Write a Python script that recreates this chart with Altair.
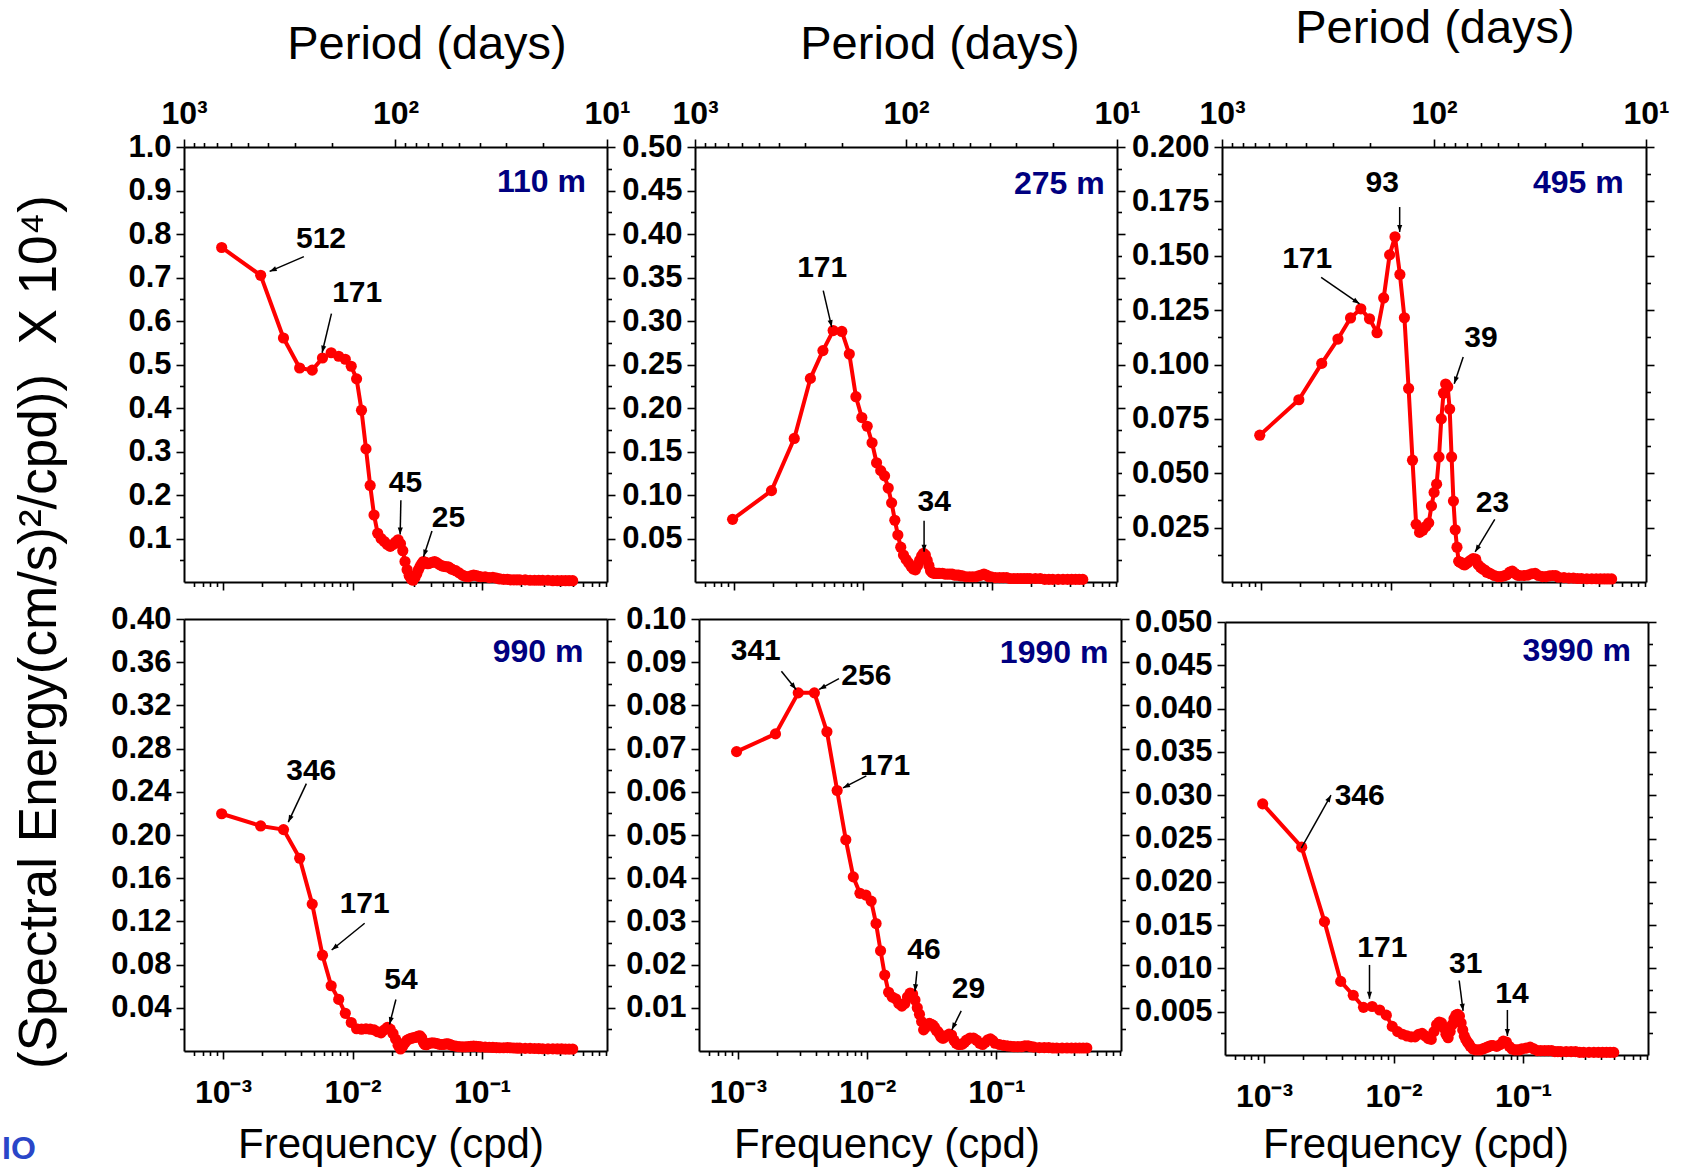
import math
import altair as alt
import pandas as pd

FONT = "Liberation Sans"
RED = "#ff0000"
NAVY = "#000080"
CANVAS_W, CANVAS_H = 1681, 1168

# ---------------- data ----------------
RECORD_DAYS = 1024
HARMONIC = [1, 2, 3, 4, 5, 6, 7, 8, 9, 10, 11, 12, 13, 14, 15, 16, 17, 18, 19, 20,
            21, 22, 23, 24, 25, 26, 27, 28, 29, 30, 31, 32, 33, 34, 35, 36, 37, 38, 39, 40,
            42, 44, 46, 48, 50, 52, 54, 56, 58, 60,
            64, 68, 72, 76, 80, 84, 88, 92, 96, 100,
            108, 116, 124, 132, 140, 150, 160, 170, 180, 190, 200,
            220, 240, 260, 280, 300, 330, 360, 390, 420, 450, 480, 512]

DEPTHS = ["110 m", "275 m", "495 m", "990 m", "1990 m", "3990 m"]

E110 = [0.769, 0.705, 0.561, 0.492, 0.487, 0.515, 0.527, 0.519, 0.512, 0.496,
        0.467, 0.395, 0.306, 0.222, 0.154, 0.112, 0.100, 0.093, 0.086, 0.082,
        0.086, 0.092, 0.097, 0.088, 0.072, 0.047, 0.028, 0.015, 0.007, 0.004,
        0.010, 0.018, 0.028, 0.036, 0.042, 0.047, 0.046, 0.044, 0.042, 0.043,
        0.045, 0.047, 0.044, 0.040, 0.037, 0.036, 0.035, 0.035, 0.032, 0.029,
        0.026, 0.021, 0.016, 0.013, 0.012, 0.014, 0.016, 0.015, 0.013, 0.012,
        0.012, 0.010, 0.011, 0.009, 0.007, 0.006, 0.006, 0.005, 0.005, 0.005, 0.005,
        0.005, 0.004, 0.004, 0.004, 0.004, 0.004, 0.003, 0.003, 0.003, 0.003, 0.003, 0.003]

E275 = [0.072, 0.105, 0.165, 0.234, 0.266, 0.289, 0.288, 0.262, 0.213, 0.189,
        0.179, 0.160, 0.137, 0.128, 0.122, 0.108, 0.091, 0.071, 0.054, 0.040,
        0.031, 0.026, 0.022, 0.018, 0.015, 0.014, 0.019, 0.025, 0.030, 0.033,
        0.031, 0.025, 0.019, 0.013, 0.011, 0.010, 0.010, 0.010, 0.010, 0.010,
        0.010, 0.009, 0.009, 0.009, 0.009, 0.008, 0.008, 0.008, 0.007, 0.007,
        0.006, 0.006, 0.006, 0.006, 0.007, 0.008, 0.009, 0.008, 0.006, 0.006,
        0.005, 0.005, 0.005, 0.005, 0.004, 0.004, 0.004, 0.004, 0.004, 0.004, 0.004,
        0.004, 0.004, 0.003, 0.003, 0.003, 0.003, 0.003, 0.003, 0.003, 0.003, 0.003, 0.003]

E495 = [0.0675, 0.0838, 0.1005, 0.1117, 0.1214, 0.1256, 0.1210, 0.1146, 0.1306, 0.1504,
        0.1587, 0.1414, 0.1215, 0.0890, 0.0560, 0.0265, 0.0228, 0.0238, 0.0255, 0.0272,
        0.0350, 0.0412, 0.0450, 0.0575, 0.0750, 0.0868, 0.0910, 0.0898, 0.0795, 0.0575,
        0.0372, 0.0240, 0.0160, 0.0095, 0.0090, 0.0088, 0.0080, 0.0079, 0.0085, 0.0090,
        0.0100, 0.0108, 0.0105, 0.0080, 0.0068, 0.0060, 0.0055, 0.0045, 0.0042, 0.0038,
        0.0030, 0.0025, 0.0025, 0.0028, 0.0033, 0.0045, 0.0050, 0.0040, 0.0032, 0.0030,
        0.0030, 0.0032, 0.0038, 0.0040, 0.0030, 0.0025, 0.0025, 0.0028, 0.0030, 0.0030, 0.0022,
        0.0020, 0.0018, 0.0018, 0.0016, 0.0016, 0.0015, 0.0015, 0.0015, 0.0014, 0.0014, 0.0014, 0.0014]

E990 = [0.2197, 0.2084, 0.2050, 0.1785, 0.1360, 0.0887, 0.0604, 0.0478, 0.0349, 0.0264,
        0.0206, 0.0202, 0.0206, 0.0202, 0.0196, 0.0178, 0.0168, 0.0196, 0.0219, 0.0202,
        0.0162, 0.0110, 0.0053, 0.0019, 0.0043, 0.0077, 0.0101, 0.0110, 0.0118, 0.0122,
        0.0125, 0.0130, 0.0138, 0.0140, 0.0120, 0.0080, 0.0060, 0.0058, 0.0066, 0.0072,
        0.0076, 0.0074, 0.0068, 0.0062, 0.0060, 0.0062, 0.0066, 0.0066, 0.0060, 0.0052,
        0.0045, 0.0040, 0.0038, 0.0038, 0.0040, 0.0042, 0.0045, 0.0044, 0.0040, 0.0038,
        0.0036, 0.0035, 0.0033, 0.0032, 0.0030, 0.0030, 0.0032, 0.0030, 0.0028, 0.0027, 0.0026,
        0.0025, 0.0024, 0.0023, 0.0022, 0.0021, 0.0020, 0.0020, 0.0019, 0.0019, 0.0018, 0.0018, 0.0018]

E1990 = [0.0693, 0.0734, 0.0829, 0.0829, 0.0739, 0.0603, 0.0489, 0.0403, 0.0365, 0.0361,
         0.0347, 0.0295, 0.0232, 0.0176, 0.0136, 0.0125, 0.0121, 0.0110, 0.0104, 0.0110,
         0.0125, 0.0134, 0.0132, 0.0118, 0.0100, 0.0085, 0.0068, 0.0049, 0.0055, 0.0062,
         0.0064, 0.0062, 0.0060, 0.0055, 0.0048, 0.0045, 0.0040, 0.0033, 0.0030, 0.0030,
         0.0035, 0.0039, 0.0037, 0.0025, 0.0018, 0.0015, 0.0015, 0.0016, 0.0020, 0.0025,
         0.0030, 0.0030, 0.0025, 0.0018, 0.0015, 0.0020, 0.0026, 0.0028, 0.0024, 0.0018,
         0.0015, 0.0013, 0.0012, 0.0011, 0.0010, 0.0010, 0.0010, 0.0012, 0.0012, 0.0010, 0.0009,
         0.0008, 0.0008, 0.0008, 0.0007, 0.0007, 0.0007, 0.0007, 0.0007, 0.0007, 0.0007, 0.0007, 0.0007]

E3990 = [0.0290, 0.0240, 0.0154, 0.0085, 0.0069, 0.0055, 0.0056, 0.0052, 0.0046, 0.0033,
         0.0027, 0.0024, 0.0022, 0.0021, 0.0021, 0.0024, 0.0025, 0.0022, 0.0019, 0.0018,
         0.0027, 0.0035, 0.0038, 0.0037, 0.0031, 0.0024, 0.0020, 0.0027, 0.0035, 0.0042,
         0.0046, 0.0047, 0.0045, 0.0037, 0.0029, 0.0022, 0.0018, 0.0015, 0.0013, 0.0010,
         0.0007, 0.0006, 0.0006, 0.0006, 0.0007, 0.0008, 0.0009, 0.0010, 0.0011, 0.0011,
         0.0010, 0.0012, 0.0016, 0.0015, 0.0010, 0.0007, 0.0006, 0.0006, 0.0006, 0.0007,
         0.0008, 0.0009, 0.0007, 0.0005, 0.0005, 0.0005, 0.0005, 0.0005, 0.0004, 0.0004, 0.0004,
         0.0004, 0.0004, 0.0004, 0.0003, 0.0003, 0.0003, 0.0003, 0.0003, 0.0003, 0.0003, 0.0003, 0.0003]

ENERGY = [E110, E275, E495, E990, E1990, E3990]

# annotations: label, text (freq, value), arrow tail (freq, value), arrow tip (freq, value)
ANNOTATIONS = [
    [("512", 0.00571, 0.788, 0.00421, 0.748, 0.00229, 0.714),
     ("171", 0.01086, 0.665, 0.00687, 0.617, 0.00582, 0.527),
     ("45", 0.0256, 0.227, 0.0236, 0.188, 0.0233, 0.109),
     ("25", 0.0550, 0.148, 0.0410, 0.117, 0.0353, 0.058)],
    [("171", 0.00482, 0.361, 0.00491, 0.335, 0.00571, 0.293),
     ("34", 0.0355, 0.0915, 0.0296, 0.0705, 0.0296, 0.0347)],
    [("93", 0.00857, 0.1834, 0.01167, 0.1724, 0.01167, 0.1609),
     ("171", 0.002265, 0.1486, 0.0029, 0.1401, 0.00573, 0.1279),
     ("39", 0.0494, 0.1120, 0.0360, 0.1035, 0.0307, 0.0912),
     ("23", 0.0605, 0.0362, 0.0630, 0.0288, 0.0445, 0.0138)],
    [("346", 0.0048, 0.2588, 0.0044, 0.2476, 0.00319, 0.2119),
     ("171", 0.0124, 0.1363, 0.0124, 0.1183, 0.00690, 0.0935),
     ("54", 0.0236, 0.0660, 0.0216, 0.0477, 0.0193, 0.0247)],
    [("341", 0.001374, 0.0926, 0.00217, 0.0879, 0.00282, 0.0837),
     ("256", 0.00985, 0.0867, 0.00605, 0.0862, 0.00425, 0.0837),
     ("171", 0.01376, 0.0659, 0.00985, 0.0637, 0.0065, 0.0609),
     ("46", 0.0275, 0.0233, 0.02428, 0.0185, 0.02344, 0.0138),
     ("29", 0.0607, 0.01425, 0.0534, 0.0093, 0.0452, 0.0049)],
    [("346", 0.00548, 0.02995, 0.00194, 0.0239, 0.00329, 0.0300),
     ("171", 0.0082, 0.0123, 0.00652, 0.0104, 0.00652, 0.0065),
     ("31", 0.0360, 0.0105, 0.0321, 0.0086, 0.0344, 0.0051),
     ("14", 0.0820, 0.00704, 0.0756, 0.0052, 0.0756, 0.0022)],
]

DEPTH_LABEL_AT = [(0.632, 0.919), (0.738, 0.458), (0.62, 0.1834),
                  (0.605, 0.369), (0.735, 0.0922), (0.68, 0.0466)]

Y_MAX = [1.0, 0.5, 0.2, 0.4, 0.1, 0.05]
Y_STEP = [0.1, 0.05, 0.025, 0.04, 0.01, 0.005]
Y_FMT = [".1f", ".2f", ".3f", ".2f", ".2f", ".3f"]

FREQ_DOMAIN = [5e-4, 0.92]
PERIOD_DOMAIN = [10, 1000]
FREQ_TICKS = [0.0006, 0.0007, 0.0008, 0.0009, 0.001,
              0.002, 0.003, 0.004, 0.005, 0.006, 0.007, 0.008, 0.009, 0.01,
              0.02, 0.03, 0.04, 0.05, 0.06, 0.07, 0.08, 0.09, 0.1,
              0.2, 0.3, 0.4, 0.5, 0.6, 0.7, 0.8, 0.9]
PERIOD_TICKS = [10, 20, 30, 40, 50, 60, 70, 80, 90, 100,
                200, 300, 400, 500, 600, 700, 800, 900, 1000]

# ---------------- layout (pixels: left, right, top, bottom of each plot frame) ----------------
PANEL_BOX = [(184, 607, 147, 582), (695, 1117, 147, 582), (1222, 1646, 147, 582),
             (184, 607, 619, 1051), (699, 1121, 619, 1051), (1225, 1648, 622, 1055)]
TOP_ROW = [True, True, True, False, False, False]

LOG_MAJOR = "abs(log(datum.value)/LN10 - round(log(datum.value)/LN10)) < 1e-6"
FREQ_LABEL = ("abs(log(datum.value)/LN10 + 3) < 1e-6 ? '10⁻³' : "
              "abs(log(datum.value)/LN10 + 2) < 1e-6 ? '10⁻²' : "
              "abs(log(datum.value)/LN10 + 1) < 1e-6 ? '10⁻¹' : ''")
PERIOD_LABEL = ("abs(log(datum.value)/LN10 - 3) < 1e-6 ? '10³' : "
                "abs(log(datum.value)/LN10 - 2) < 1e-6 ? '10²' : "
                "abs(log(datum.value)/LN10 - 1) < 1e-6 ? '10¹' : ''")

ARROW = "M0,0L0.36,1L-0.36,1Z"


def make_axis(orient, offset, values, major_test, label_expr=None, pad=5, ticks=True, font_size=31):
    kw = dict(orient=orient, offset=offset, values=values, title=None, grid=False,
              domain=True, domainColor="black", domainWidth=2,
              labelOverlap=False, labelFlush=False)
    if ticks:
        kw.update(ticks=True, tickColor="black", tickWidth=1.6,
                  tickSize={"condition": {"test": major_test, "value": 8}, "value": 4.5})
    else:
        kw["ticks"] = False
    if label_expr is None:
        kw["labels"] = False
    else:
        kw.update(labels=True, labelExpr=label_expr, labelFont=FONT, labelFontSize=font_size,
                  labelFontWeight="bold", labelColor="black", labelPadding=pad)
    return alt.Axis(**kw)


def build_panel(i):
    L, R, T, B = PANEL_BOX[i]
    top_row = TOP_ROW[i]
    ymax, ystep, yfmt = Y_MAX[i], Y_STEP[i], Y_FMT[i]
    n = int(round(2 * ymax / ystep))
    yticks = [round(j * ystep / 2, 6) for j in range(1, n + 1)]
    y_major = f"abs(datum.value/{ystep} - round(datum.value/{ystep})) < 1e-6"
    y_label = f"({y_major}) ? format(datum.value, '{yfmt}') : ''"

    xs = alt.Scale(type="log", domain=FREQ_DOMAIN, range=[L, R], nice=False)
    ys = alt.Scale(domain=[0, ymax], range=[B, T], nice=False, zero=False)
    x_axis = make_axis("bottom", B - CANVAS_H, FREQ_TICKS, LOG_MAJOR,
                       None if top_row else FREQ_LABEL, pad=18, font_size=32)
    y_axis = make_axis("left", -L, yticks, y_major, y_label, pad=5, font_size=31)

    def X(field):
        return alt.X(f"{field}:Q", scale=xs, axis=x_axis)

    def Y(field):
        return alt.Y(f"{field}:Q", scale=ys, axis=y_axis)

    lx = math.log10(FREQ_DOMAIN[0])
    span = math.log10(FREQ_DOMAIN[1]) - lx

    def to_px(f, v):
        return (L + (math.log10(f) - lx) / span * (R - L), B - v / ymax * (B - T))

    df = pd.DataFrame({"f": [k / RECORD_DAYS for k in HARMONIC], "v": ENERGY[i]})
    rows = []
    for lab, lf, lv, tf, tv, hf, hv in ANNOTATIONS[i]:
        x0, y0 = to_px(tf, tv)
        x1, y1 = to_px(hf, hv)
        ang = math.degrees(math.atan2(x1 - x0, -(y1 - y0))) % 360
        rows.append(dict(label=lab, lf=lf, lv=lv, tf=tf, tv=tv, hf=hf, hv=hv, ang=ang))
    ann = pd.DataFrame(rows)
    dpos = DEPTH_LABEL_AT[i]
    ddf = pd.DataFrame({"f": [dpos[0]], "v": [dpos[1]], "t": [DEPTHS[i]]})

    line = alt.Chart(df).mark_line(color=RED, strokeWidth=4, strokeJoin="round").encode(
        x=X("f"), y=Y("v"))
    pts = alt.Chart(df).mark_circle(color=RED, size=125, opacity=1).encode(x=X("f"), y=Y("v"))
    rules = alt.Chart(ann).mark_rule(color="black", strokeWidth=1.5).encode(
        x=X("tf"), x2=alt.X2("hf"), y=Y("tv"), y2=alt.Y2("hv"))
    heads = alt.Chart(ann).mark_point(shape=ARROW, filled=True, size=200, color="black",
                                      opacity=1, strokeWidth=0).encode(
        x=X("hf"), y=Y("hv"), angle=alt.Angle("ang:Q", scale=None))
    labels = alt.Chart(ann).mark_text(font=FONT, fontSize=30, fontWeight="bold", color="black",
                                      align="center", baseline="middle").encode(
        x=X("lf"), y=Y("lv"), text="label:N")
    depth = alt.Chart(ddf).mark_text(font=FONT, fontSize=32, fontWeight="bold", color=NAVY,
                                     align="right", baseline="middle").encode(
        x=X("f"), y=Y("v"), text="t:N")
    main = alt.layer(line, pts, rules, heads, labels, depth)

    if top_row:
        top_axis = make_axis("top", -T, PERIOD_TICKS, LOG_MAJOR, PERIOD_LABEL, pad=9, font_size=32)
    else:
        top_axis = make_axis("top", -T, PERIOD_TICKS, LOG_MAJOR, None, ticks=False)
    top = alt.Chart(pd.DataFrame({"period": PERIOD_DOMAIN})).mark_point(opacity=0).encode(
        x=alt.X("period:Q", scale=alt.Scale(type="log", domain=PERIOD_DOMAIN, range=[R, L], nice=False),
                axis=top_axis))
    right_axis = make_axis("right", R - CANVAS_W, yticks, y_major, None)
    right = alt.Chart(pd.DataFrame({"v": [0, ymax]})).mark_point(opacity=0).encode(
        y=alt.Y("v:Q", scale=alt.Scale(domain=[0, ymax], range=[B, T], nice=False, zero=False),
                axis=right_axis))
    return [main, top, right]


layers = []
for i in range(6):
    assert len(ENERGY[i]) == len(HARMONIC)
    layers.extend(build_panel(i))

# titles (positioned text)
TITLES = pd.DataFrame({
    "t": ["Period (days)", "Period (days)", "Period (days)",
          "Frequency (cpd)", "Frequency (cpd)", "Frequency (cpd)"],
    "x": [427, 940, 1435, 391, 887, 1416],
    "y": [45, 45, 29, 1145, 1145, 1145],
    "s": [47, 47, 47, 42, 42, 42],
})
for _, r in TITLES.iterrows():
    layers.append(
        alt.Chart(pd.DataFrame({"t": [r["t"]]})).mark_text(
            font=FONT, fontSize=float(r["s"]), color="black", align="center", baseline="middle"
        ).encode(x=alt.value(float(r["x"])), y=alt.value(float(r["y"])), text="t:N"))

layers.append(
    alt.Chart(pd.DataFrame({"t": ["(Spectral Energy(cm/s)²/cpd))\u00a0 X 10⁴)"]})).mark_text(
        font=FONT, fontSize=53, color="black", align="center", baseline="middle", angle=270
    ).encode(x=alt.value(40), y=alt.value(632), text="t:N"))

layers.append(
    alt.Chart(pd.DataFrame({"t": ["IO"]})).mark_text(
        font=FONT, fontSize=32, fontWeight="bold", color="#2a46c8", align="left", baseline="top"
    ).encode(x=alt.value(2), y=alt.value(1134), text="t:N"))

chart = alt.layer(*layers).resolve_scale(x="independent", y="independent").properties(
    width=CANVAS_W, height=CANVAS_H, padding=0,
    autosize=alt.AutoSizeParams(type="none"), background="white"
).configure_view(stroke=None).configure_axis(grid=False)

chart.save("out.html", embed_options={"renderer": "svg", "actions": False})
